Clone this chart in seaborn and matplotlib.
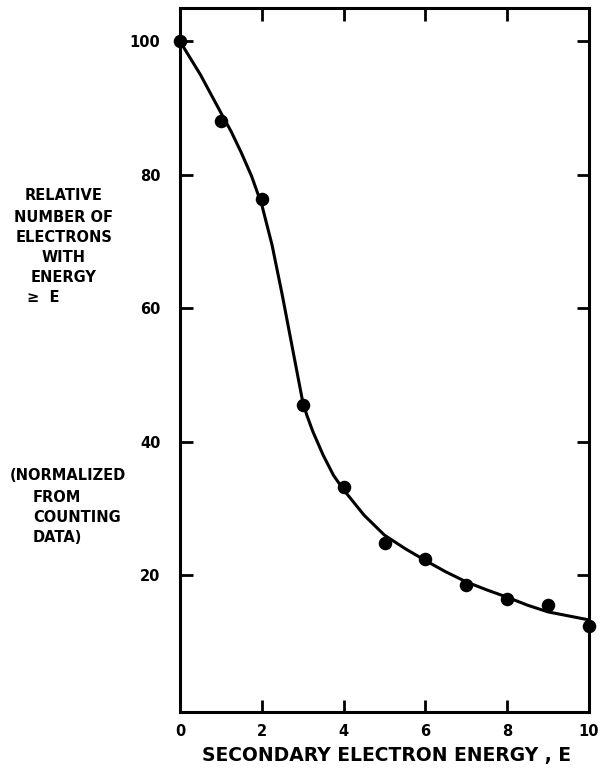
import matplotlib
matplotlib.use("Agg")
import matplotlib.pyplot as plt
import seaborn as sns
import pandas as pd

# measured points
energy = [0, 1, 2, 3, 4, 5, 6, 7, 8, 9, 10]
rel_number = [100, 88, 76.4, 45.5, 33.2, 24.9, 22.5, 18.6, 16.4, 15.5, 12.4]

# hand-drawn fitted curve
curve_x = [0.0, 0.5, 1.0, 1.25, 1.5, 1.75, 2.0, 2.25, 2.5, 2.75, 3.0, 3.1, 3.25,
           3.5, 3.75, 4.0, 4.5, 5.0, 5.5, 6.0, 6.5, 7.0, 7.5, 8.0, 8.5, 9.0,
           9.5, 10.0]
curve_y = [100, 95, 89.3, 86.5, 83.3, 79.8, 75.5, 69.5, 62, 54, 46, 44, 41.5,
           38, 35, 32.8, 29, 26, 24, 22.2, 20.5, 19, 17.8, 16.7, 15.5, 14.5,
           13.9, 13.3]

xticks = [0, 2, 4, 6, 8, 10]
yticks = [20, 40, 60, 80, 100]

sns.set_style("ticks")
plt.rcParams['font.family'] = ['DejaVu Sans']

fig = plt.figure(figsize=(6.01, 7.70), dpi=100)
ax = fig.add_axes([180/601, 58/770, (589-180)/601, (712-8)/770])

pts = pd.DataFrame({"E": energy, "N": rel_number})
crv = pd.DataFrame({"E": curve_x, "N": curve_y})

sns.lineplot(data=crv, x="E", y="N", ax=ax, color="black", linewidth=2.2,
             sort=False, estimator=None)
sns.scatterplot(data=pts, x="E", y="N", ax=ax, color="black", s=95,
                edgecolor="black", linewidth=0, zorder=5, clip_on=False)

ax.set_xlim(0, 10)
ax.set_ylim(-0.5, 105)
ax.set_xticks(xticks)
ax.set_yticks(yticks)
ax.set_xticklabels([str(t) for t in xticks], fontsize=10.5, fontweight="bold",
                   color="black")
ax.set_yticklabels([str(t) for t in yticks], fontsize=10.5, fontweight="bold",
                   color="black")
ax.tick_params(direction="in", length=9, width=2, top=True, right=True,
               color="black")
ax.tick_params(axis="y", pad=14)
ax.tick_params(axis="x", pad=9)
for s in ax.spines.values():
    s.set_linewidth(2.2)
    s.set_color("black")
ax.set_xlabel("")
ax.set_ylabel("")

tfont = dict(fontsize=10.5, fontweight="bold", color="black")
# left annotation block 1
for txt, y in [("RELATIVE", 196), ("NUMBER OF", 217), ("ELECTRONS", 238),
               ("WITH", 258), ("ENERGY", 278)]:
    fig.text(64/601, 1 - y/770, txt, ha="center", va="center", **tfont)
fig.text(27/601, 1 - 298/770, "≥  E", ha="left", va="center", **tfont)

# left annotation block 2
fig.text(10/601, 1 - 475/770, "(NORMALIZED", ha="left", va="center", **tfont)
for txt, y in [("FROM", 497), ("COUNTING", 518), ("DATA)", 538)]:
    fig.text(33/601, 1 - y/770, txt, ha="left", va="center", **tfont)

fig.text(386/601, 1 - 755/770, "SECONDARY ELECTRON ENERGY , E",
         ha="center", va="center", fontsize=13.5, fontweight="bold",
         color="black")

fig.savefig("out.png", dpi=100)
